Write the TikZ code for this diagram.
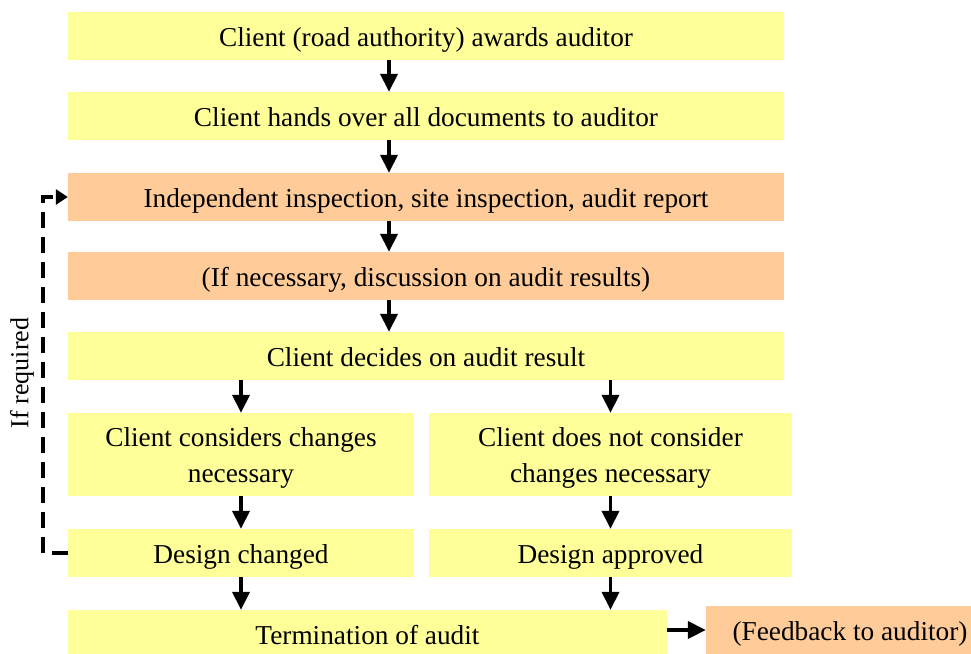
\documentclass[tikz,border=0pt]{standalone}
\usepackage{fontspec}
\setmainfont{Liberation Serif}
\usetikzlibrary{arrows.meta,calc}
\definecolor{boxyellow}{HTML}{FFFF99}
\definecolor{boxorange}{HTML}{FFCC99}
\begin{document}
\begin{tikzpicture}[x=1pt,y=-1pt,
  ybox/.style={fill=boxyellow,draw=none,inner sep=0pt,align=center,font=\fontsize{27.3}{36}\selectfont,minimum height=48pt,text height=24pt,text depth=4pt},
  twoline/.style={minimum height=83pt,text height=60pt,text depth=4pt},
  obox/.style={ybox,fill=boxorange},
  arr/.style={line width=3.8pt,-{Triangle[width=17pt,length=18pt]}},
  darr/.style={line width=3.8pt,dash pattern=on 16pt off 9pt,-{Triangle[width=15pt,length=12pt]}}]
\useasboundingbox (0,0) rectangle (971,653);
\node[ybox,minimum width=716pt] (b1) at (426,36) {Client (road authority) awards auditor};
\node[ybox,minimum width=716pt] (b2) at (426,116) {Client hands over all documents to auditor};
\node[obox,minimum width=716pt] (b3) at (426,197) {Independent inspection, site inspection, audit report};
\node[obox,minimum width=716pt] (b4) at (426,276) {(If necessary, discussion on audit results)};
\node[ybox,minimum width=716pt] (b5) at (426,356) {Client decides on audit result};
\node[ybox,twoline,minimum width=346pt] (b6l) at (241,454.5) {Client considers changes\\necessary};
\node[ybox,twoline,minimum width=363pt] (b6r) at (610.5,454.5) {Client does not consider\\changes necessary};
\node[ybox,minimum width=346pt] (b7l) at (241,553) {Design changed};
\node[ybox,minimum width=363pt] (b7r) at (610.5,553) {Design approved};
\node[ybox,minimum width=599pt] (b8) at (367.5,634) {Termination of audit};
\node[obox,minimum width=288pt] (fb) at (850,630) {(Feedback to auditor)};
\node[rotate=90,font=\fontsize{26}{30}\selectfont,inner sep=0pt] (req) at (22,373) {If required};
\coordinate (cx) at (389,0);
\coordinate (dl) at (43,0);
\draw[arr] (b1.south -| cx) -- (b2.north -| cx);
\draw[arr] (b2.south -| cx) -- (b3.north -| cx);
\draw[arr] (b3.south -| cx) -- (b4.north -| cx);
\draw[arr] (b4.south -| cx) -- (b5.north -| cx);
\draw[arr] (b5.south -| b6l.north) -- (b6l.north);
\draw[arr] (b5.south -| b6r.north) -- (b6r.north);
\draw[arr] (b6l.south) -- (b7l.north);
\draw[arr] (b6r.south) -- (b7r.north);
\draw[arr] (b7l.south) -- (b7l.south |- b8.north);
\draw[arr] (b7r.south) -- (b7r.south |- b8.north);
\draw[arr] (b8.east |- fb.west) -- (fb.west);
\draw[darr] (b7l.west) -- (b7l.west -| dl) -- (b3.west -| dl) -- (b3.west);
\end{tikzpicture}
\end{document}
